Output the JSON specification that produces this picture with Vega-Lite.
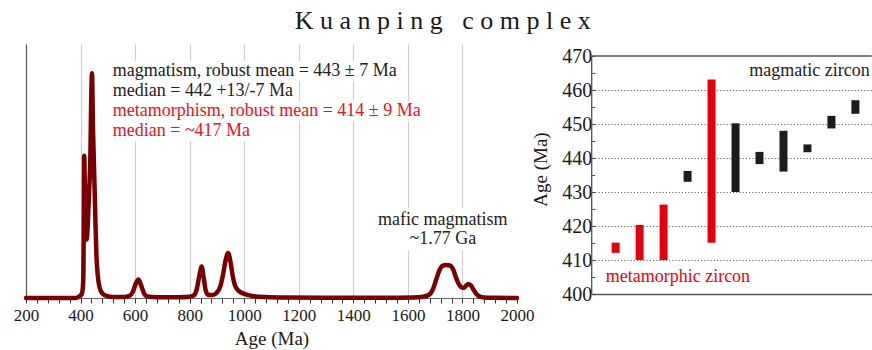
{
  "$schema": "https://vega.github.io/schema/vega-lite/v6.json",
  "background": "white",
  "padding": {"left": 13, "top": 8, "right": 0, "bottom": 2},
  "title": {
    "text": "K u a n p i n g\u00a0\u00a0\u00a0c o m p l e x",
    "font": "Liberation Serif",
    "fontSize": 26,
    "fontWeight": "normal",
    "color": "#1a1a1a",
    "anchor": "middle",
    "offset": 10
  },
  "bounds": "flush",
  "spacing": 74.7,
  "resolve": {"scale": {"color": "independent"}},
  "config": {
    "view": {"stroke": null},
    "font": "Liberation Serif",
    "style": {
      "guide-label": {"font": "Liberation Serif", "fill": "#1a1a1a"},
      "guide-title": {"font": "Liberation Serif", "fill": "#1a1a1a", "fontWeight": "normal"}
    },
    "axis": {
      "labelFont": "Liberation Serif",
      "titleFont": "Liberation Serif",
      "labelColor": "#1a1a1a",
      "titleColor": "#1a1a1a",
      "titleFontWeight": "normal"
    },
    "axisX": {"labelFont": "Liberation Serif", "titleFont": "Liberation Serif"},
    "axisY": {"labelFont": "Liberation Serif", "titleFont": "Liberation Serif"}
  },
  "datasets": {
    "density": [
      {"age": 200, "density": 0}, {"age": 300, "density": 0}, {"age": 380, "density": 0},
      {"age": 390, "density": 0.3}, {"age": 398, "density": 0.8}, {"age": 404, "density": 1.5},
      {"age": 408, "density": 3.5}, {"age": 410.5, "density": 10}, {"age": 412, "density": 30},
      {"age": 413.5, "density": 56}, {"age": 415.5, "density": 45}, {"age": 418, "density": 30},
      {"age": 422.5, "density": 23}, {"age": 426, "density": 28}, {"age": 430, "density": 38},
      {"age": 433, "density": 46}, {"age": 436, "density": 56}, {"age": 439, "density": 78},
      {"age": 442, "density": 88.5}, {"age": 445.5, "density": 67}, {"age": 448.5, "density": 55},
      {"age": 452, "density": 41}, {"age": 455, "density": 28}, {"age": 458.5, "density": 16},
      {"age": 463, "density": 9}, {"age": 470, "density": 4}, {"age": 480, "density": 1.8},
      {"age": 495, "density": 0.8}, {"age": 520, "density": 0.4}, {"age": 560, "density": 0.4},
      {"age": 580, "density": 0.9}, {"age": 592, "density": 2.5}, {"age": 602, "density": 5.5},
      {"age": 612, "density": 7.3}, {"age": 622, "density": 5}, {"age": 632, "density": 2},
      {"age": 645, "density": 0.6}, {"age": 680, "density": 0.3}, {"age": 760, "density": 0.3},
      {"age": 800, "density": 0.5}, {"age": 815, "density": 1}, {"age": 826, "density": 3.5},
      {"age": 836, "density": 9}, {"age": 844, "density": 12.4}, {"age": 852, "density": 7.5},
      {"age": 860, "density": 2.5}, {"age": 870, "density": 1.2}, {"age": 885, "density": 1.2},
      {"age": 900, "density": 2.2}, {"age": 912, "density": 4.5}, {"age": 922, "density": 9},
      {"age": 932, "density": 15}, {"age": 941, "density": 17.7}, {"age": 950, "density": 14},
      {"age": 958, "density": 8.5}, {"age": 966, "density": 5}, {"age": 980, "density": 2.8},
      {"age": 1000, "density": 1.6}, {"age": 1030, "density": 0.8}, {"age": 1080, "density": 0.35},
      {"age": 1150, "density": 0.15}, {"age": 1300, "density": 0.05}, {"age": 1500, "density": 0.05},
      {"age": 1620, "density": 0.2}, {"age": 1660, "density": 0.6}, {"age": 1680, "density": 1.5},
      {"age": 1692, "density": 3.5}, {"age": 1703, "density": 7}, {"age": 1714, "density": 10.5},
      {"age": 1726, "density": 12.6}, {"age": 1740, "density": 13}, {"age": 1755, "density": 12.8},
      {"age": 1765, "density": 11.5}, {"age": 1775, "density": 8.5}, {"age": 1785, "density": 5.8},
      {"age": 1795, "density": 4.3}, {"age": 1804, "density": 4}, {"age": 1813, "density": 4.8},
      {"age": 1822, "density": 5.5}, {"age": 1832, "density": 4.8}, {"age": 1842, "density": 3},
      {"age": 1852, "density": 1.5}, {"age": 1865, "density": 0.5}, {"age": 1880, "density": 0.2},
      {"age": 1920, "density": 0.05}, {"age": 2000, "density": 0}
    ],
    "noteBoxes": [
      {"a0": 508, "a1": 1560, "v0": 85.4, "v1": 93.3},
      {"a0": 508, "a1": 1179, "v0": 77.5, "v1": 85.4},
      {"a0": 508, "a1": 1644, "v0": 69.6, "v1": 77.5},
      {"a0": 508, "a1": 1025, "v0": 61.8, "v1": 69.6},
      {"a0": 1483, "a1": 1974, "v0": 27.1, "v1": 35.3},
      {"a0": 1593, "a1": 1861, "v0": 18.8, "v1": 27.1}
    ],
    "ageNotes": [
      {"age": 518, "level": 87.4, "label": "magmatism, robust mean = 443 ± 7 Ma", "kind": "magmatism"},
      {"age": 518, "level": 79.5, "label": "median = 442 +13/-7 Ma", "kind": "magmatism"},
      {"age": 518, "level": 71.6, "label": "metamorphism, robust mean = 414 ± 9 Ma", "kind": "metamorphism"},
      {"age": 518, "level": 63.7, "label": "median = ~417 Ma", "kind": "metamorphism"}
    ],
    "maficNotes": [
      {"age": 1728, "level": 28.6, "label": "mafic magmatism"},
      {"age": 1728, "level": 21.2, "label": "~1.77 Ga"}
    ],
    "zircon": [
      {"spot": 1, "low": 412.1, "high": 415.1, "origin": "metamorphic"},
      {"spot": 2, "low": 410, "high": 420.3, "origin": "metamorphic"},
      {"spot": 3, "low": 410, "high": 426.3, "origin": "metamorphic"},
      {"spot": 4, "low": 433, "high": 436.2, "origin": "magmatic"},
      {"spot": 5, "low": 415.1, "high": 463.1, "origin": "metamorphic"},
      {"spot": 6, "low": 430, "high": 450.2, "origin": "magmatic"},
      {"spot": 7, "low": 438.2, "high": 441.8, "origin": "magmatic"},
      {"spot": 8, "low": 436, "high": 448, "origin": "magmatic"},
      {"spot": 9, "low": 441.7, "high": 444, "origin": "magmatic"},
      {"spot": 10, "low": 448.7, "high": 452.4, "origin": "magmatic"},
      {"spot": 11, "low": 453, "high": 457, "origin": "magmatic"}
    ],
    "zirconNotes": [
      {"spot": 11.6, "age": 464.1, "label": "magmatic zircon", "side": "right"},
      {"spot": 0.583, "age": 403.6, "label": "metamorphic zircon", "side": "left"}
    ],
    "frame": [
      {"spot0": 0, "spot1": 11.68, "age0": 400, "age1": 470}
    ]
  },
  "hconcat": [
    {
      "width": 491,
      "height": 254,
      "layer": [
        {
          "data": {"name": "density"},
          "mark": {"type": "line", "color": "#780000", "strokeWidth": 4.5, "interpolate": "monotone", "strokeJoin": "round", "strokeCap": "round"},
          "encoding": {
            "x": {
              "field": "age", "type": "quantitative",
              "scale": {"domain": [200, 2000], "nice": false, "zero": false},
              "axis": {
                "title": "Age (Ma)",
                "titleFont": "Liberation Serif",
                "titleFontSize": 19,
                "titlePadding": 6,
                "values": [200, 240, 280, 320, 360, 400, 440, 480, 520, 560, 600, 640, 680, 720, 760, 800, 840, 880, 920, 960, 1000, 1040, 1080, 1120, 1160, 1200, 1240, 1280, 1320, 1360, 1400, 1440, 1480, 1520, 1560, 1600, 1640, 1680, 1720, 1760, 1800, 1840, 1880, 1920, 1960, 2000],
                "tickCount": 200,
                "format": "d",
                "labelExpr": "datum.value % 200 === 0 ? datum.label : ''",
                "labelFont": "Liberation Serif",
                "labelFontSize": 17,
                "labelFlush": false,
                "labelPadding": 4,
                "labelOverlap": false,
                "tickSize": 5,
                "tickColor": "#333",
                "tickWidth": 1,
                "domainColor": "#666",
                "domainWidth": 1.2,
                "grid": true,
                "gridColor": "#cfcfcf",
                "gridWidth": 1.2,
                "gridOpacity": {"condition": {"test": "datum.value % 200 === 0 && datum.value > 200 && datum.value < 2000", "value": 1}, "value": 0}
              }
            },
            "y": {
              "field": "density", "type": "quantitative",
              "scale": {"domain": [0, 100], "nice": false, "zero": false},
              "axis": {"title": null, "labels": false, "ticks": false, "grid": false, "domain": true, "domainColor": "#555", "domainWidth": 1.2}
            }
          }
        },
        {
          "data": {"name": "noteBoxes"},
          "mark": {"type": "rect", "color": "white"},
          "encoding": {
            "x": {"field": "a0", "type": "quantitative", "scale": {"domain": [200, 2000], "nice": false, "zero": false}},
            "x2": {"field": "a1"},
            "y": {"field": "v0", "type": "quantitative", "scale": {"domain": [0, 100], "nice": false, "zero": false}},
            "y2": {"field": "v1"}
          }
        },
        {
          "data": {"name": "ageNotes"},
          "mark": {"type": "text", "font": "Liberation Serif", "fontSize": 18, "align": "left", "baseline": "alphabetic"},
          "encoding": {
            "x": {"field": "age", "type": "quantitative"},
            "y": {"field": "level", "type": "quantitative"},
            "text": {"field": "label"},
            "color": {"field": "kind", "type": "nominal", "scale": {"domain": ["magmatism", "metamorphism"], "range": ["#222222", "#e8101e"]}, "legend": null}
          }
        },
        {
          "data": {"name": "maficNotes"},
          "mark": {"type": "text", "font": "Liberation Serif", "fontSize": 18, "align": "center", "baseline": "alphabetic", "color": "#222222"},
          "encoding": {
            "x": {"field": "age", "type": "quantitative"},
            "y": {"field": "level", "type": "quantitative"},
            "text": {"field": "label"}
          }
        }
      ]
    },
    {
      "width": 280,
      "height": 250,
      "layer": [
        {
          "data": {"name": "zircon"},
          "mark": {"type": "bar", "size": 8},
          "encoding": {
            "x": {
              "field": "spot", "type": "quantitative",
              "scale": {"domain": [0, 11.68], "nice": false, "zero": false, "padding": 0},
              "axis": {"title": null, "labels": false, "ticks": false, "grid": false, "domain": true, "domainColor": "#555", "domainWidth": 1.3}
            },
            "y": {
              "field": "low", "type": "quantitative",
              "scale": {"domain": [400, 473.53], "nice": false, "zero": false, "padding": 0},
              "axis": {
                "title": "Age (Ma)",
                "titleFont": "Liberation Serif",
                "titleFontSize": 19,
                "titlePadding": 11,
                "values": [400, 405, 410, 415, 420, 425, 430, 435, 440, 445, 450, 455, 460, 465, 470],
                "tickCount": 100,
                "labelExpr": "datum.value % 10 === 0 ? datum.label : ''",
                "labelFont": "Liberation Serif",
                "labelFontSize": 20,
                "labelPadding": 3,
                "labelOverlap": false,
                "domain": false,
                "tickSize": -3,
                "tickColor": "#444",
                "grid": true,
                "gridColor": "#666",
                "gridDash": [1.2, 2],
                "gridWidth": 1,
                "gridOpacity": {"condition": {"test": "datum.value % 10 === 0 && datum.value > 400 && datum.value < 470", "value": 1}, "value": 0}
              }
            },
            "y2": {"field": "high"},
            "color": {"field": "origin", "type": "nominal", "scale": {"domain": ["metamorphic", "magmatic"], "range": ["#e3000f", "#1c1c1c"]}, "legend": null}
          }
        },
        {
          "data": {"name": "frame"},
          "mark": {"type": "rule", "color": "#555", "strokeWidth": 1.3},
          "encoding": {
            "x": {"field": "spot0", "type": "quantitative"},
            "y": {"field": "age0", "type": "quantitative"},
            "y2": {"field": "age1"}
          }
        },
        {
          "data": {"name": "frame"},
          "mark": {"type": "rule", "color": "#555", "strokeWidth": 1.3},
          "encoding": {
            "y": {"field": "age1", "type": "quantitative"},
            "x": {"field": "spot0", "type": "quantitative"},
            "x2": {"field": "spot1"}
          }
        },
        {
          "data": {"name": "zirconNotes"},
          "transform": [{"filter": "datum.side === 'right'"}],
          "mark": {"type": "text", "font": "Liberation Serif", "fontSize": 18, "align": "right", "baseline": "alphabetic", "color": "#222222"},
          "encoding": {
            "x": {"field": "spot", "type": "quantitative"},
            "y": {"field": "age", "type": "quantitative"},
            "text": {"field": "label"}
          }
        },
        {
          "data": {"name": "zirconNotes"},
          "transform": [{"filter": "datum.side === 'left'"}],
          "mark": {"type": "text", "font": "Liberation Serif", "fontSize": 18, "align": "left", "baseline": "alphabetic", "color": "#e3000f"},
          "encoding": {
            "x": {"field": "spot", "type": "quantitative"},
            "y": {"field": "age", "type": "quantitative"},
            "text": {"field": "label"}
          }
        }
      ]
    }
  ]
}
